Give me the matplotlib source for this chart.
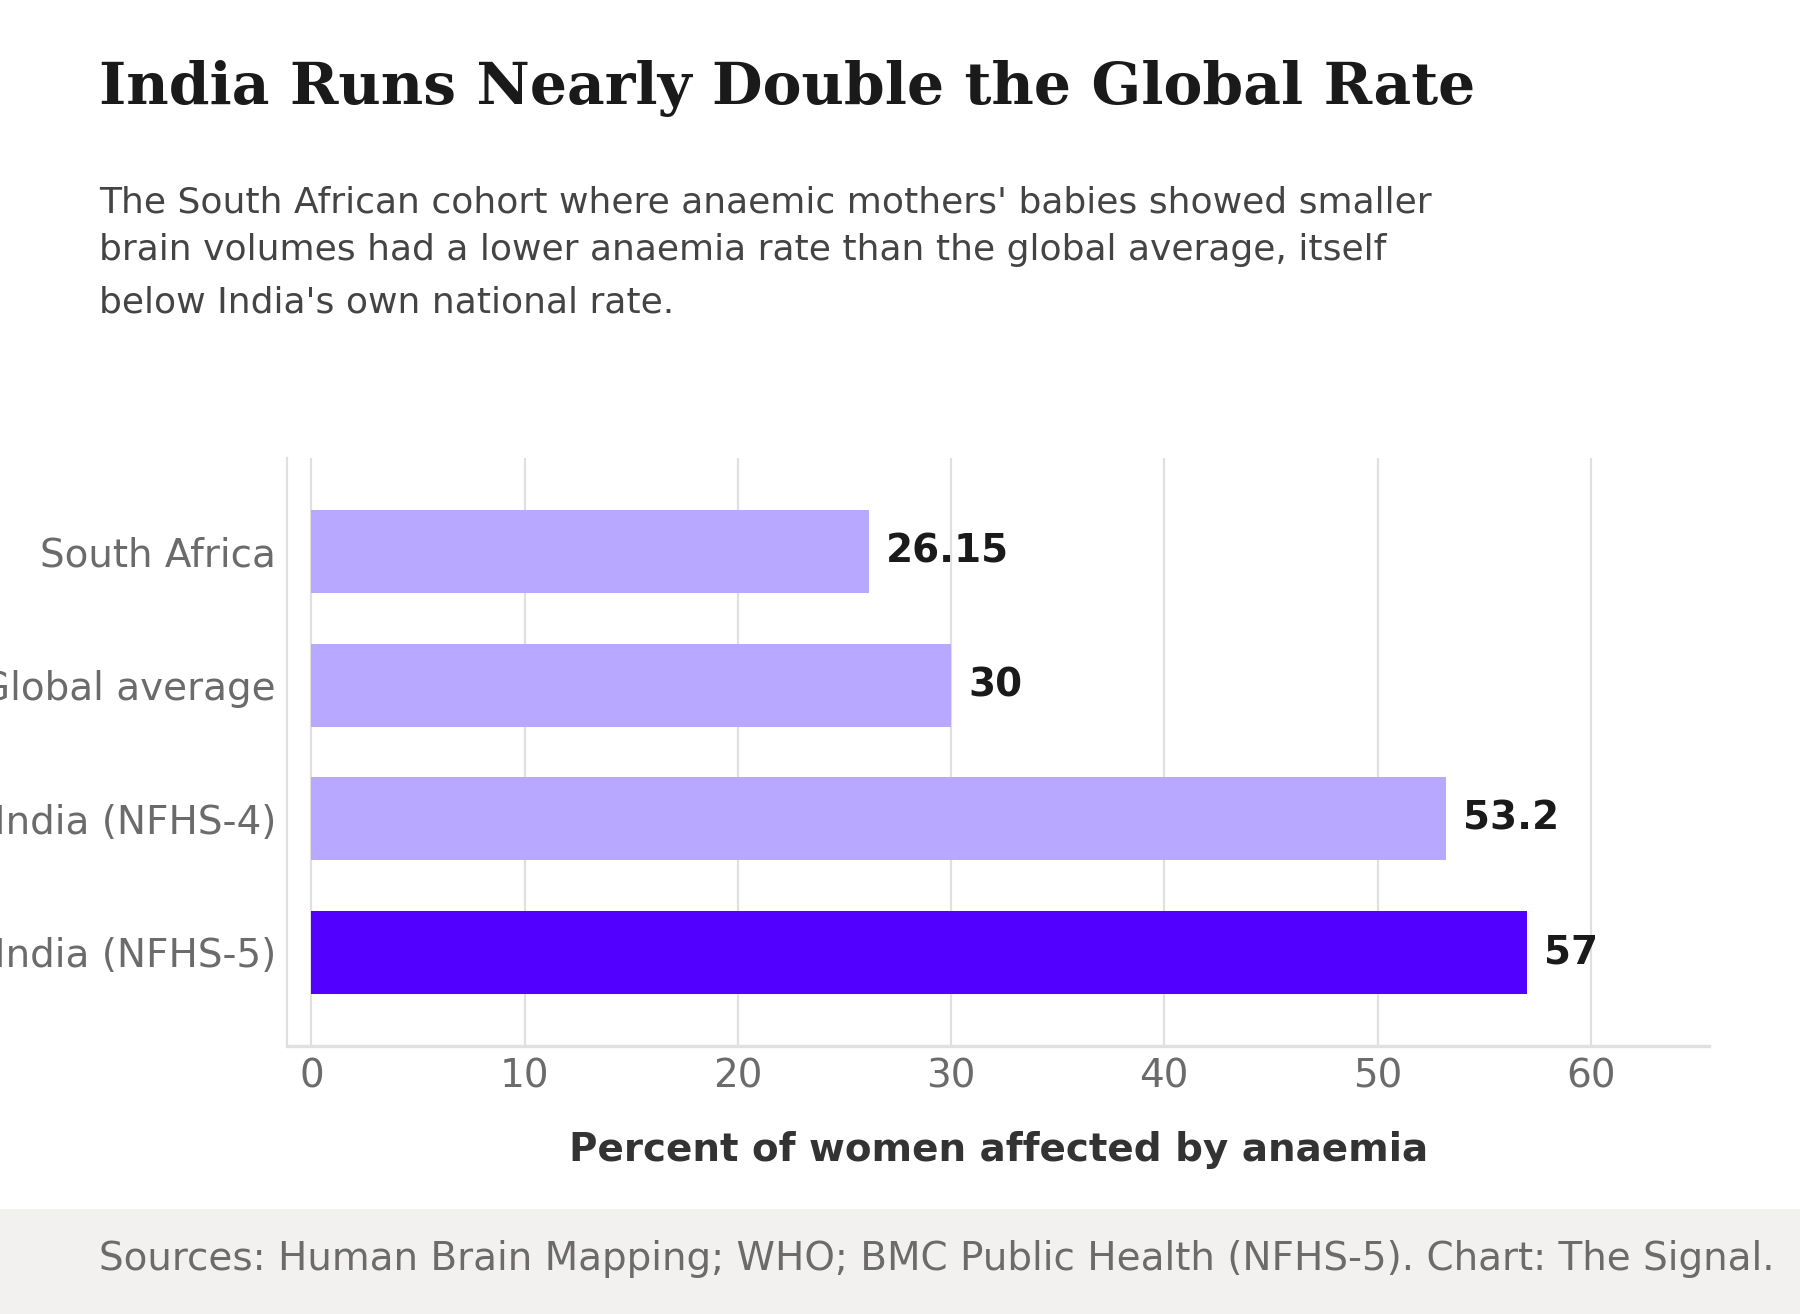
import matplotlib
matplotlib.use("Agg")
import matplotlib.pyplot as plt
from matplotlib.patches import Rectangle

categories = ["South Africa", "Global average", "India (NFHS-4)", "India (NFHS-5)"]
values = [26.15, 30, 53.2, 57]
value_labels = ["26.15", "30", "53.2", "57"]
highlight = [False, False, False, True]
xticks = [0, 10, 20, 30, 40, 50, 60]

title = "India Runs Nearly Double the Global Rate"
subtitle_lines = ["The South African cohort where anaemic mothers' babies showed smaller",
                  "brain volumes had a lower anaemia rate than the global average, itself",
                  "below India's own national rate."]
xlabel = "Percent of women affected by anaemia"
footer = "Sources: Human Brain Mapping; WHO; BMC Public Health (NFHS-5). Chart: The Signal."

LIGHT = "#b8a8ff"
DARK = "#5200ff"
GRID = "#e2e0dc"

fig = plt.figure(figsize=(9, 6.57), dpi=200)
fig.patch.set_facecolor("white")

# footer band
fig.patches.append(Rectangle((0, 0), 1, 0.08, transform=fig.transFigure,
                             facecolor="#f2f1ef", edgecolor="none", zorder=0))

ax = fig.add_axes([0.1595, 0.204, 0.79, 0.4475])
ypos = list(range(len(categories)))
colors = [DARK if h else LIGHT for h in highlight]
ax.barh(ypos, values, height=0.62, color=colors, zorder=2)

vmax = max(values)
ax.set_xlim(-0.02 * vmax, vmax * 1.15)
ax.set_ylim(len(categories) - 0.3, -0.7)
ax.set_yticks(ypos)
ax.set_yticklabels(categories)
ax.set_xticks(xticks)
ax.set_xticklabels([str(t) for t in xticks])
ax.tick_params(axis="both", length=0, labelsize=14, labelcolor="#6b6b6b", pad=4)
ax.grid(axis="x", color=GRID, linewidth=0.8, zorder=0)
ax.set_axisbelow(True)
for s in ["top", "right"]:
    ax.spines[s].set_visible(False)
ax.spines["left"].set_color(GRID)
ax.spines["left"].set_linewidth(0.8)
ax.spines["bottom"].set_color(GRID)
ax.spines["bottom"].set_linewidth(1.2)

for y, v, lab in zip(ypos, values, value_labels):
    ax.text(v + 0.8, y, lab, va="center", ha="left", fontsize=14,
            fontweight="bold", color="#1a1a1a", zorder=3)

ax.set_xlabel(xlabel, fontsize=14, fontweight="bold", color="#333333")
ax.xaxis.set_label_coords(0.5, -0.177)
ax.xaxis.label.set_va("center")

fig.text(0.0548, 0.9209, title, fontsize=21, fontweight="bold",
         family="DejaVu Serif", color="#1a1a1a", va="baseline", ha="left")
for line, yb in zip(subtitle_lines, [0.8379, 0.8021, 0.7618]):
    fig.text(0.0548, yb, line, fontsize=13, color="#444444",
             va="baseline", ha="left")
fig.text(0.0548, 0.042, footer, fontsize=14, color="#6b6b6b",
         va="center", ha="left")

fig.savefig("out.png", dpi=200, facecolor="white")
